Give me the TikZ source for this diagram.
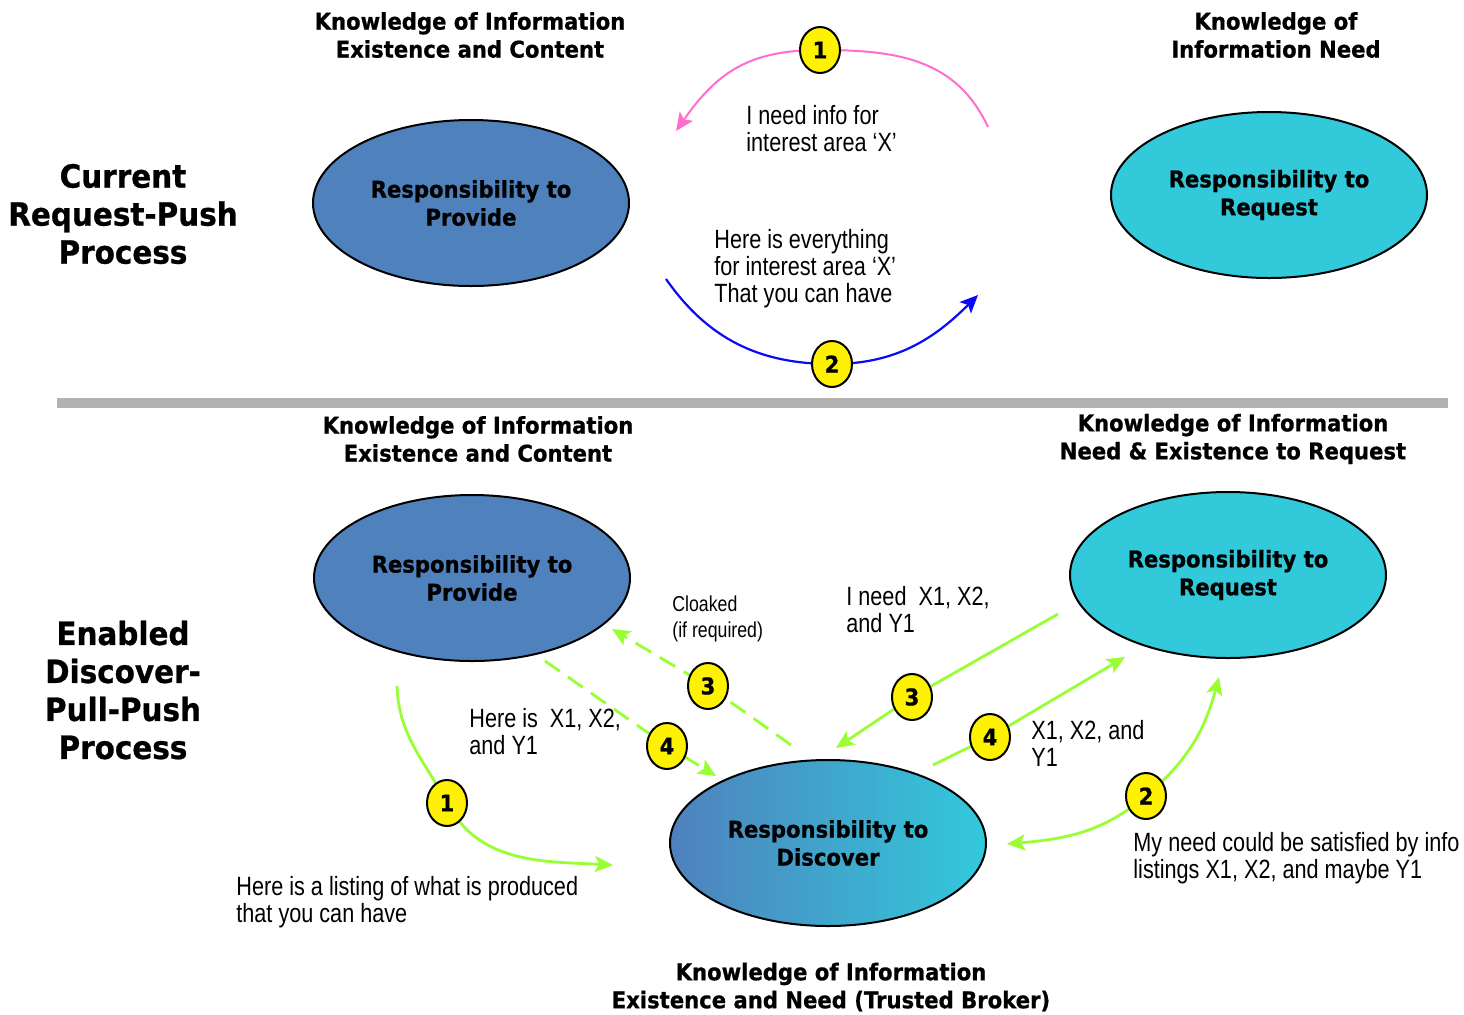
\documentclass[tikz,border=0pt]{standalone}
\usepackage{fontspec}
\usetikzlibrary{shapes.geometric,arrows.meta}
\newfontfamily\hfont{DejaVu Sans}[FakeStretch=0.92, BoldFeatures={FakeBold=0.8}]
\newfontfamily\nfont{Liberation Sans}[FakeStretch=0.82]
\definecolor{provblue}{RGB}{79,129,189}
\definecolor{reqcyan}{RGB}{50,201,219}
\definecolor{pinkc}{RGB}{255,110,205}
\definecolor{bluec}{RGB}{10,10,245}
\definecolor{greenc}{RGB}{153,255,51}
\definecolor{barc}{RGB}{178,178,178}
\pgfdeclarelayer{bg}
\pgfsetlayers{bg,main}
\begin{document}
\begin{tikzpicture}[x=0.5pt,y=0.5pt,
  head/.style={font=\hfont\bfseries\fontsize{11.5}{14}\selectfont, align=center, inner sep=0},
  big/.style={font=\hfont\bfseries\fontsize{16}{19}\selectfont, align=center, inner sep=0},
  lbl/.style={font=\nfont\fontsize{13.2}{13.5}\selectfont, align=left, anchor=west, inner sep=0},
  small/.style={font=\nfont\fontsize{10.8}{13}\selectfont},
  role/.style={ellipse, draw=black, line width=1pt, minimum width=158pt, minimum height=83pt, inner sep=0,
    align=center, font=\hfont\bfseries\fontsize{11.5}{14}\selectfont},
  badge/.style={ellipse, draw=black, line width=1pt, fill=yellow, minimum width=20pt, minimum height=23pt,
    inner sep=0, font=\hfont\bfseries\fontsize{11.5}{13}\selectfont},
  tip/.style={-{Stealth[length=9pt,width=8pt,inset=2pt]}},
  pinkarrow/.style={draw=pinkc, line width=1pt, tip},
  bluearrow/.style={draw=bluec, line width=1.1pt, tip},
  greenarrow/.style={draw=greenc, line width=1.4pt, tip},
  greendash/.style={greenarrow, dash pattern=on 9pt off 5pt}
]
\useasboundingbox (0,0) rectangle (1464,-1014);

% separator
\draw[barc, line width=5pt] (57,-403) -- (1448,-403);

% headings
\node[head] (h1) at (470,-35) {Knowledge of Information\\Existence and Content};
\node[head] (h2) at (1276,-35) {Knowledge of\\Information Need};
\node[head] (h3) at (478,-439) {Knowledge of Information\\Existence and Content};
\node[head] (h4) at (1233,-439) {Knowledge of Information\\Need \& Existence to Request};
\node[head] (h5) at (831,-987) {Knowledge of Information\\Existence and Need (Trusted Broker)};

\node[big] (cur) at (123,-214) {Current\\Request-Push\\Process};
\node[big] (enb) at (123,-690) {Enabled\\Discover-\\Pull-Push\\Process};

% role ellipses
\node[role, fill=provblue] (prov1) at (471,-203) {Responsibility to\\Provide};
\node[role, fill=reqcyan] (req1) at (1269,-195) {Responsibility to\\Request};
\node[role, fill=provblue] (prov2) at (472,-578) {Responsibility to\\Provide};
\node[role, fill=reqcyan] (req2) at (1228,-575) {Responsibility to\\Request};
\node[role, left color=provblue, right color=reqcyan] (disc) at (828,-843) {Responsibility to\\Discover};

% labels
\node[lbl] (t1) at (746,-128.5) {I need info for\\interest area ‘X’};
\node[lbl] (t2) at (714,-269) {Here is everything\\for interest area ‘X’\\That you can have};
\node[lbl, small] (t3) at (672,-619) {Cloaked\\(if required)};
\node[lbl] (t4) at (846,-609.5) {I need\ \ X1, X2,\\and Y1};
\node[lbl] (t5) at (469,-731.5) {Here is\ \ X1, X2,\\and Y1};
\node[lbl] (t6) at (1031,-743.5) {X1, X2, and\\Y1};
\node[lbl] (t7) at (236,-902.5) {Here is a listing of what is produced\\that you can have};
\node[lbl] (t8) at (1133,-858.5) {My need could be satisfied by info\\listings X1, X2, and maybe Y1};

% badges
\node[badge] (a1) at (820,-50) {1};
\node[badge] (a2) at (832,-364) {2};
\node[badge] (c1) at (447,-803) {1};
\node[badge] (c3l) at (708,-686) {3};
\node[badge] (c4l) at (667,-746) {4};
\node[badge] (c3r) at (912,-697) {3};
\node[badge] (c4r) at (990,-737) {4};
\node[badge] (c2) at (1146,-796) {2};

% free ends
\coordinate (ps) at (988,-127);
\coordinate (pe) at (676,-131);
\coordinate (bs) at (666,-279);
\coordinate (be) at (978,-295);
\coordinate (g1s) at (397,-686);
\coordinate (g1e) at (613,-865);
\coordinate (d3s) at (791,-745);
\coordinate (d3e) at (612,-629);
\coordinate (d4s) at (545,-661);
\coordinate (d4e) at (716,-776);
\coordinate (r3s) at (1058,-614);
\coordinate (r3e) at (836,-748);
\coordinate (r4s) at (933,-765);
\coordinate (r4e) at (1125,-657);
\coordinate (g2a) at (1007,-844);
\coordinate (g2b) at (1219,-677);

\begin{pgfonlayer}{bg}
\fill[white] (0,0) rectangle (1464,-1014);
\draw[pinkarrow] (ps) to[out=115,in=0,looseness=1.05] (a1.center) to[out=180,in=55,looseness=1.1] (pe);
\draw[bluearrow] (bs) to[out=-55,in=180] (a2.center) to[out=0,in=225] (be);
\draw[greenarrow] (g1s) to[out=-88,in=118] (c1.center) to[out=-62,in=177] (g1e);
\draw[greendash] (d3s) -- (c3l.center) -- (d3e);
\draw[greendash] (d4s) -- (c4l.center) -- (d4e);
\draw[greenarrow] (r3s) -- (c3r.center) -- (r3e);
\draw[greenarrow] (r4s) -- (c4r.center) -- (r4e);
\draw[greenarrow, {Stealth[length=9pt,width=8pt,inset=2pt]}-{Stealth[length=9pt,width=8pt,inset=2pt]}]
  (g2a) to[out=5,in=220] (c2.center) to[out=40,in=255] (g2b);
\end{pgfonlayer}
\end{tikzpicture}
\end{document}
